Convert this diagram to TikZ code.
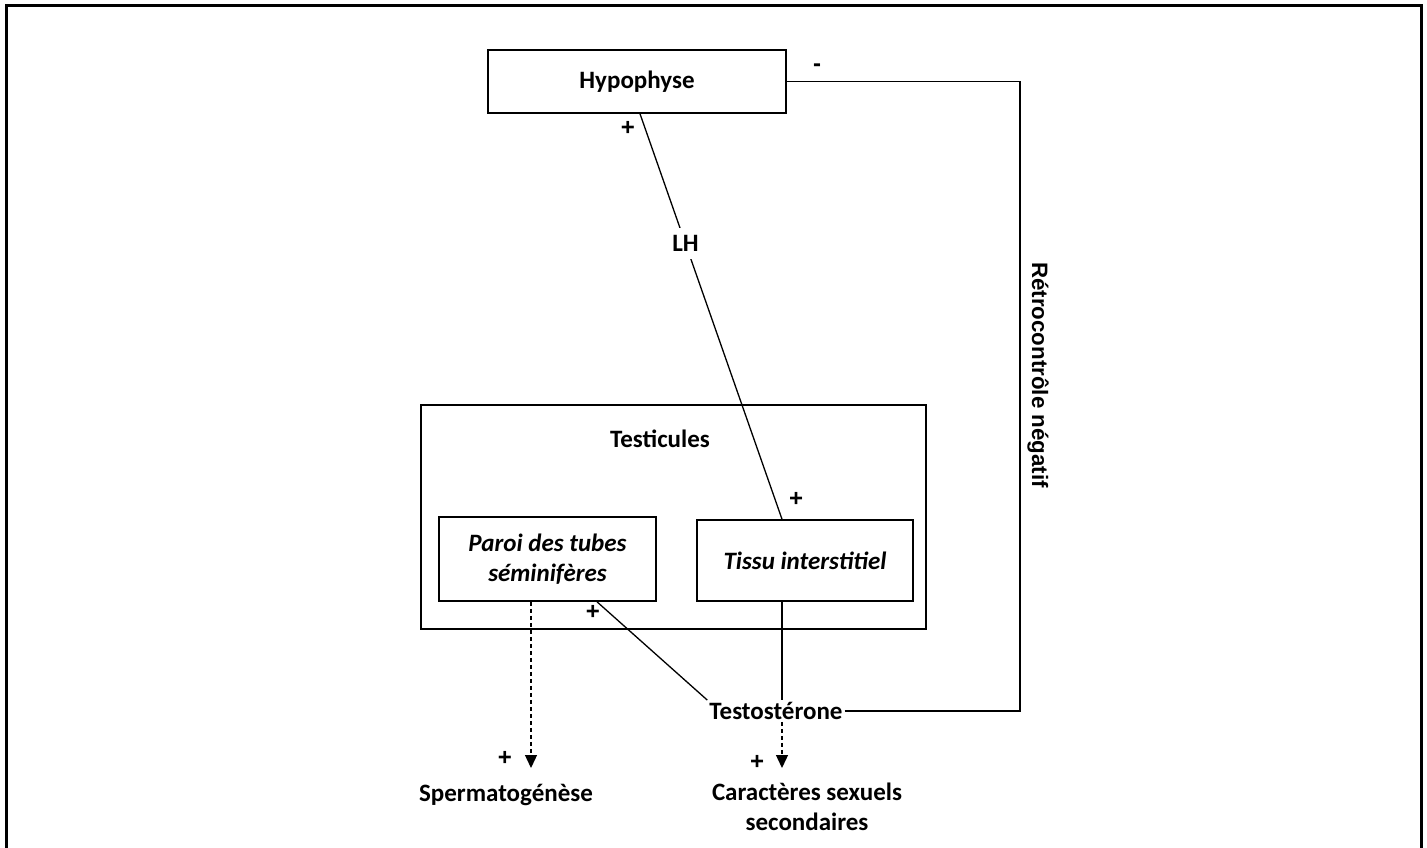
\documentclass[tikz,border=0pt]{standalone}
\usepackage{fontspec}
\setmainfont{Carlito}
\newfontfamily\sidefont{Liberation Sans}
\usetikzlibrary{arrows.meta}
\begin{document}
\begin{tikzpicture}[x=1pt,y=-1pt,
  lbl/.style={font=\fontsize{25}{30}\selectfont\bfseries, inner sep=2pt},
  box/.style={draw, line width=1.6pt, rectangle},
  organ/.style={box, font=\fontsize{25}{30}\selectfont\bfseries},
  tissue/.style={box, font=\fontsize{25}{30}\selectfont\bfseries\itshape, align=center},
  sign/.style={font=\fontsize{24}{28}\selectfont\sidefont\bfseries, inner sep=0pt},
  link/.style={line width=1.3pt},
  effect/.style={line width=1.3pt, dash pattern=on 4pt off 3pt, -{Triangle[width=12pt,length=13pt]}}
]
\useasboundingbox (0,0) rectangle (1427,847);
% outer frame, open at the bottom
\draw[line width=3pt] (6,850) -- (6,5) -- (1421,5) -- (1421,850);

% organs and tissues
\node[organ, minimum width=298pt, minimum height=63pt] (hypo) at (637,81.5) {Hypophyse};
\node[box, minimum width=505pt, minimum height=224pt] (testic) at (673.5,517) {};
\node[lbl] (testiclabel) at (660,439) {Testicules};
\node[tissue, minimum width=217pt, minimum height=84pt] (paroi) at (547.5,559) {Paroi des tubes\\séminifères};
\node[tissue, minimum width=216pt, minimum height=81pt] (tissu) at (805,560.5) {Tissu interstitiel};

% hormone and targets
\node[lbl] (testo) at (776,711) {Testostérone};
\node[lbl] (sperm) at (506,795) {Spermatogénèse};
\node[lbl, align=center] (carac) at (807,807) {Caractères sexuels\\secondaires};
\node[font=\fontsize{22.3}{26}\selectfont\sidefont\bfseries, rotate=-90] (retro) at (1038,375) {Rétrocontrôle négatif};

% signs
\node[sign] (m1) at (817,68) {-};
\node[sign] (p1) at (628,128) {+};
\node[sign] (p2) at (796,499) {+};
\node[sign] (p3) at (593,612) {+};
\node[sign] (p4) at (505,758) {+};
\node[sign] (p5) at (757,762) {+};

% LH from pituitary to interstitial tissue
\draw[link] (640,0 |- hypo.south) -- node[pos=0.32, lbl, fill=white, inner sep=7pt] (lh) {LH} (782,0 |- tissu.north);

% testosterone secretion and action on the tubules
\draw[link] (782,0 |- tissu.south) -- (782,0 |- testo.north);
\draw[link] (597,0 |- paroi.south) -- (testo.north west);

% negative feedback loop
\coordinate (fbbot) at (1020,0 |- testo.east);
\coordinate (fbtop) at (1020,0 |- hypo.east);
\draw[link] (testo.east) -- (fbbot) -- (fbtop) -- (hypo.east);

% effects
\draw[effect] (531,0 |- paroi.south) -- (531,768);
\draw[effect] (782,0 |- testo.south) -- (782,768);
\end{tikzpicture}
\end{document}
